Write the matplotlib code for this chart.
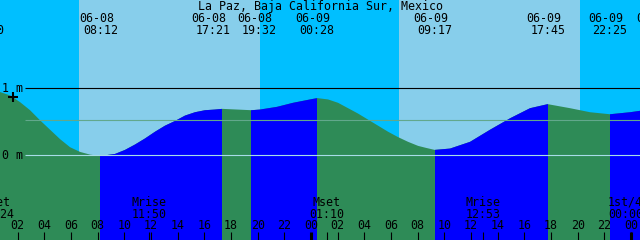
import matplotlib
matplotlib.use('Agg')
import matplotlib.pyplot as plt

# ---------------- data ----------------
title = "La Paz, Baja California Sur, Mexico"

# tide curve, hours since 06-08 00:00 and height (m)
tide_hours = [-0.33, 0.68, 1.43, 2.18, 2.93, 3.68, 4.43, 5.18, 5.93, 6.68, 7.43,
              8.20, 9.30, 10.05, 10.80, 11.55, 12.30, 13.05, 13.80, 14.55, 15.30,
              16.05, 16.80, 17.35, 18.45, 19.53, 20.18, 21.45, 22.65, 23.93, 24.47,
              25.28, 26.03, 26.78, 27.53, 28.28, 29.03, 29.78, 30.53, 31.28, 32.03,
              32.63, 33.28, 34.43, 35.93, 37.43, 38.93, 40.43, 41.75, 43.43, 44.93,
              46.42, 47.93, 49.00]
tide_heights = [0.97, 0.94, 0.89, 0.79, 0.67, 0.52, 0.38, 0.24, 0.12, 0.05, 0.01,
                -0.01, 0.02, 0.08, 0.16, 0.25, 0.35, 0.44, 0.51, 0.59, 0.64,
                0.67, 0.68, 0.69, 0.68, 0.67, 0.68, 0.72, 0.78, 0.83, 0.85,
                0.83, 0.78, 0.70, 0.62, 0.53, 0.44, 0.35, 0.27, 0.20, 0.14,
                0.11, 0.08, 0.10, 0.20, 0.38, 0.55, 0.70, 0.76, 0.70, 0.64,
                0.61, 0.64, 0.67]

# tide extremes (date, time, kind)
event_dates = ['06-07', '06-08', '06-08', '06-08', '06-09', '06-09', '06-09', '06-09', '06-10']
event_times = ['23:40', '08:12', '17:21', '19:32', '00:28', '09:17', '17:45', '22:25', '02:00']
event_kinds = ['H', 'L', 'H', 'L', 'H', 'L', 'H', 'L', 'H']

# sun
sunrise_dates = ['06-08', '06-09']
sunrise_times = ['06:36', '06:36']
sunset_dates = ['06-08', '06-09']
sunset_times = ['20:11', '20:11']

# moon events
moon_names = ['Mset', 'Mrise', 'Mset', 'Mrise', '1st/4']
moon_dates = ['06-08', '06-08', '06-09', '06-09', '06-10']
moon_times = ['00:24', '11:50', '01:10', '12:53', '00:00']

now_date, now_time, now_height = '06-08', '01:37', 0.87
msl_level = 0.52
mark_levels = [0.0, 1.0]
mark_labels = ['0 m', '1 m']

# ---------------- helpers ----------------
DAY0 = {'06-07': -24, '06-08': 0, '06-09': 24, '06-10': 48}


def to_hours(d, t):
    hh, mm = t.split(':')
    return DAY0[d] + int(hh) + int(mm) / 60.0


W, H = 640, 240
T0 = 0.675
SPAN = 48.0
T1 = T0 + SPAN
HPP = SPAN / W                 # hours per pixel
YLO, YHI = -1.259, 2.308

SKY_DAY = '#87CEEB'
SKY_NIGHT = '#00BFFF'
FLOOD = '#0000FF'
EBB = '#2E8B57'
FONT = dict(family='DejaVu Sans Mono', size=8.4, color='black')

fig = plt.figure(figsize=(W / 100, H / 100), dpi=100)
ax = fig.add_axes([0, 0, 1, 1])
ax.set_xlim(T0, T1)
ax.set_ylim(YLO, YHI)
ax.axis('off')
xt = ax.get_xaxis_transform()


def yf(ypix):
    return 1 - ypix / H


# sky
rises = [to_hours(d, t) for d, t in zip(sunrise_dates, sunrise_times)]
sets = [to_hours(d, t) for d, t in zip(sunset_dates, sunset_times)]
bounds = [T0 - 2] + sorted(rises + sets) + [T1 + 2]
for i in range(len(bounds) - 1):
    color = SKY_NIGHT if i % 2 == 0 else SKY_DAY
    ax.axvspan(bounds[i], bounds[i + 1], color=color, lw=0, zorder=0)

# water
water = ax.fill_between(tide_hours, YLO - 1, tide_heights, color=EBB, lw=0, zorder=2)
clip = water.get_paths()[0]
ev_h = [to_hours(d, t) for d, t in zip(event_dates, event_times)]
for i in range(len(ev_h) - 1):
    if event_kinds[i] == 'L':
        r = ax.axvspan(ev_h[i], ev_h[i + 1], color=FLOOD, lw=0, zorder=3)
        r.set_clip_path(clip, ax.transData)

# level lines
xstart = T0 + 25 * HPP
ax.hlines(mark_levels[1], xstart, T1, color='black', lw=0.8, zorder=4)
ax.hlines(msl_level, xstart, T1, color='#62a88c', lw=0.8, zorder=4)
ax.hlines(mark_levels[0], xstart, T1, color='#a8dce8', lw=0.8, zorder=4)
for lvl, lab, base in zip(mark_levels, mark_labels, [159, 92]):
    ax.text(1.5 / W, yf(base), lab, transform=ax.transAxes, ha='left', va='baseline', zorder=5, **FONT)

# now marker
ax.plot([to_hours(now_date, now_time)], [now_height], marker='+', ms=7, mew=1.5,
        color='black', zorder=6)

# title
ax.text(0.5, yf(10), title, transform=ax.transAxes, ha='center', va='baseline', **FONT)

# tide event labels
top_offsets = {2: -9.3, 3: 7.6}
for i, (d, t) in enumerate(zip(event_dates, event_times)):
    x = ev_h[i] + top_offsets.get(i, 0) * HPP
    ax.text(x - 4 * HPP, yf(22), d, transform=xt, ha='center', va='baseline', clip_on=True, **FONT)
    ax.text(x, yf(34), t, transform=xt, ha='center', va='baseline', clip_on=True, **FONT)

# hour ticks
for hr in range(2, 49, 2):
    if T0 <= hr <= T1:
        midnight = hr % 24 == 0
        ax.vlines(hr, 0, 8.5 / H, transform=xt, color='black', lw=2.2 if midnight else 0.8, zorder=6)
        ax.text(hr, yf(229), '%02d' % (hr % 24), transform=xt, ha='center', va='baseline', zorder=6, **FONT)

# moon labels
moon_offsets = {4: -5.5}
for i, (n, d, t) in enumerate(zip(moon_names, moon_dates, moon_times)):
    mh = to_hours(d, t)
    if T0 <= mh <= T1:
        ax.vlines(mh, 0, 8.5 / H, transform=xt, color='black', lw=0.8, zorder=6)
    x = mh + moon_offsets.get(i, 0) * HPP
    ax.text(x, yf(205.5), n, transform=xt, ha='center', va='baseline', clip_on=True, zorder=6, **FONT)
    ax.text(x, yf(217.5), t, transform=xt, ha='center', va='baseline', clip_on=True, zorder=6, **FONT)

fig.savefig('out.png', dpi=100)
